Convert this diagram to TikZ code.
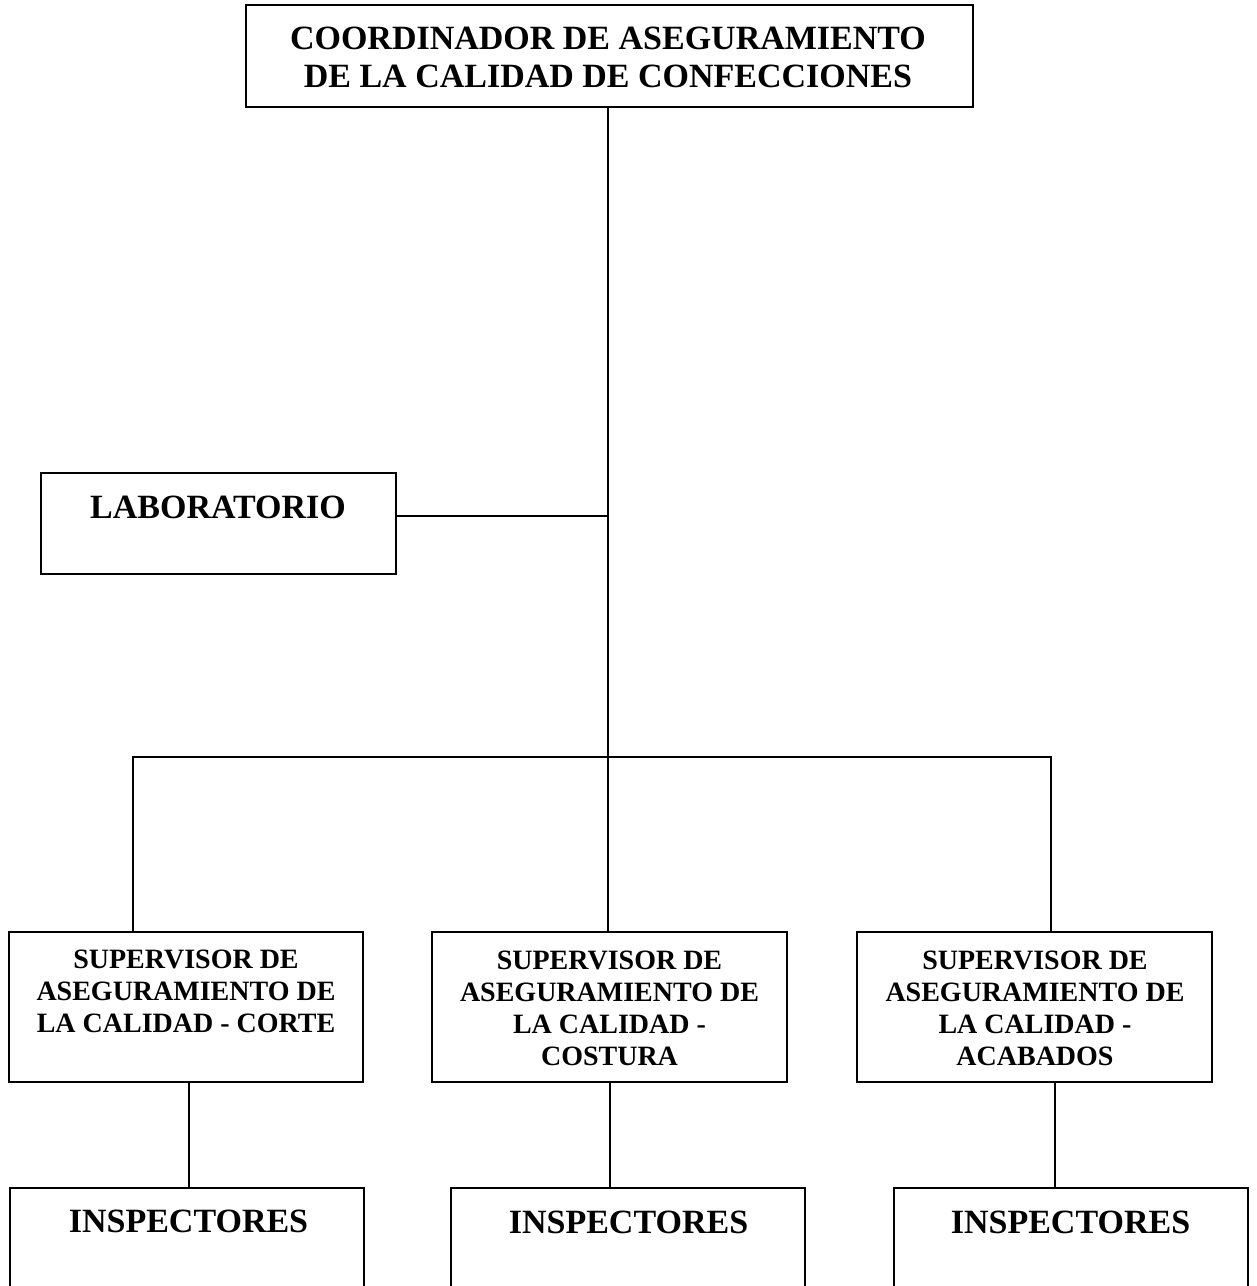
\documentclass[tikz,border=0pt]{standalone}
\usepackage{fontspec}
\setmainfont{Liberation Serif}
\begin{document}
\begin{tikzpicture}[x=1pt,y=-1pt,
  box/.style={draw=black,line width=2.8pt,rectangle,inner sep=0pt,fill=none},
  big/.style={font=\bfseries\fontsize{34}{38}\selectfont,align=center,inner sep=0pt},
  sup/.style={font=\bfseries\fontsize{28}{32}\selectfont,align=center,inner sep=0pt},
  link/.style={draw=black,line width=2.5pt}]
\useasboundingbox (0,0) rectangle (1257,1286);
\clip (0,0) rectangle (1257,1286);
% boxes
\node[box,minimum width=727pt,minimum height=102pt] (top) at (609.5,56) {};
\node[box,minimum width=355pt,minimum height=101pt] (lab) at (218.5,523.5) {};
\node[box,minimum width=354pt,minimum height=150pt] (s1) at (186,1007) {};
\node[box,minimum width=355pt,minimum height=150pt] (s2) at (609.5,1007) {};
\node[box,minimum width=355pt,minimum height=150pt] (s3) at (1034.5,1007) {};
\node[box,minimum width=354pt,minimum height=106pt] (i1) at (187,1241) {};
\node[box,minimum width=354pt,minimum height=106pt] (i2) at (628,1241) {};
\node[box,minimum width=354pt,minimum height=106pt] (i3) at (1071,1241) {};
% texts
\node[big] (topt) at (608,57) {COORDINADOR DE ASEGURAMIENTO\\DE LA CALIDAD DE CONFECCIONES};
\node[big] (labt) at (218,507) {LABORATORIO};
\node[sup] (s1t) at (186,991.5) {SUPERVISOR DE\\ASEGURAMIENTO DE\\LA CALIDAD - CORTE};
\node[sup] (s2t) at (609.5,1008) {SUPERVISOR DE\\ASEGURAMIENTO DE\\LA CALIDAD -\\COSTURA};
\node[sup] (s3t) at (1035,1008) {SUPERVISOR DE\\ASEGURAMIENTO DE\\LA CALIDAD -\\ACABADOS};
\node[big] (i1t) at (188.5,1221) {INSPECTORES};
\node[big] (i2t) at (628.5,1222) {INSPECTORES};
\node[big] (i3t) at (1070.5,1222) {INSPECTORES};
% connectors
\coordinate (hub) at (608,757);
\coordinate (labj) at (608,516);
\coordinate (hl) at (133,757);
\coordinate (hr) at (1051,757);
\draw[link] (top.south -| hub) -- (hub);
\draw[link] (lab.east |- labj) -- (labj);
\draw[link,line cap=rect] (hl) -- (hr);
\draw[link] (hl) -- (hl |- s1.north);
\draw[link] (hub) -- (hub |- s2.north);
\draw[link] (hr) -- (hr |- s3.north);
\draw[link] (189,1082) coordinate (a1) (a1 |- s1.south) -- (a1 |- i1.north);
\draw[link] (610,1082) coordinate (a2) (a2 |- s2.south) -- (a2 |- i2.north);
\draw[link] (1055,1082) coordinate (a3) (a3 |- s3.south) -- (a3 |- i3.north);
\end{tikzpicture}
\end{document}
